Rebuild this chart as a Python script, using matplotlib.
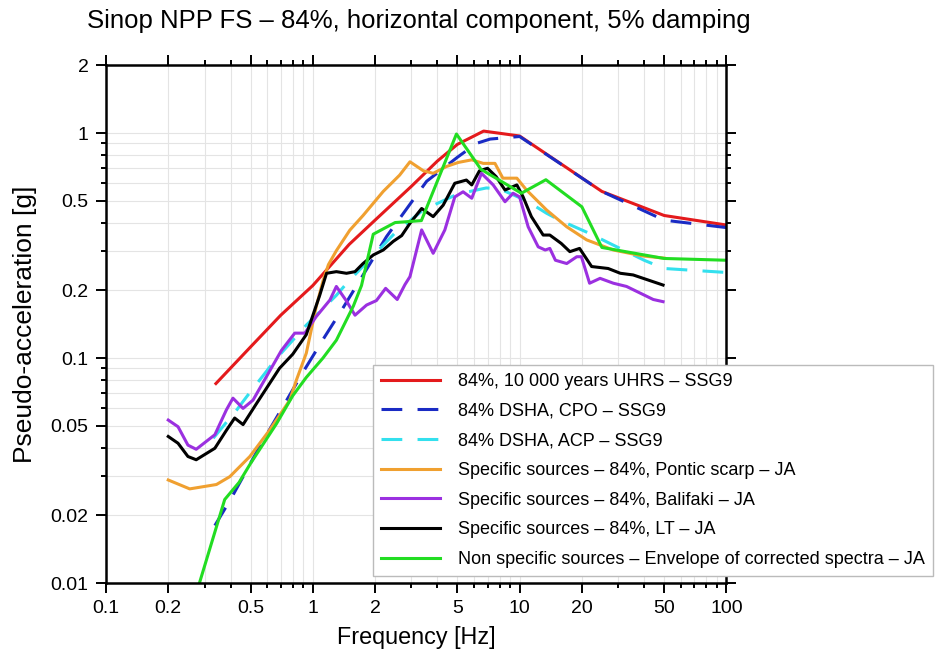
import matplotlib
matplotlib.use("Agg")
import matplotlib.pyplot as plt
from matplotlib.ticker import FixedLocator, NullFormatter

plt.rcParams['font.family'] = ['Liberation Sans', 'DejaVu Sans']

# ---------------- data ----------------
uhrs_f = [0.34, 0.5, 0.7, 1.0, 1.5, 2.0, 3.0, 4.0, 5.0, 6.7, 10.0, 25.0, 50.0, 100.0]
uhrs_a = [0.077, 0.112, 0.155, 0.21, 0.32, 0.41, 0.58, 0.75, 0.89, 1.02, 0.97, 0.55, 0.43, 0.39]

cpo_f = [0.336, 0.4, 0.55, 0.9, 1.14, 1.4, 2.27, 3.55, 5.0, 6.2, 7.2, 10.0, 25.0, 50.0, 100.0]
cpo_a = [0.018, 0.0235, 0.040, 0.087, 0.124, 0.167, 0.346, 0.61, 0.78, 0.90, 0.94, 0.965, 0.55, 0.41, 0.38]

acp_f = [0.33, 0.43, 0.48, 0.67, 0.93, 1.3, 1.46, 2.5, 3.42, 4.27, 5.0, 6.9, 8.0, 10.8, 13.5,
         15.6, 21.5, 40.0, 50.0, 100.0]
acp_a = [0.044, 0.059, 0.0675, 0.10, 0.14, 0.19, 0.215, 0.36, 0.455, 0.50, 0.535, 0.57, 0.565,
         0.50, 0.44, 0.41, 0.36, 0.272, 0.25, 0.24]

pontic_f = [0.2, 0.254, 0.342, 0.397, 0.496, 0.62, 0.774, 0.834, 0.93, 1.04, 1.12, 1.19, 1.3, 1.51,
            1.75, 2.19, 2.63, 2.95, 3.42, 3.82, 4.43, 5.05, 5.87, 6.67, 7.6, 8.3, 9.7, 10.8, 13.5,
            16.9, 21.1, 28.4, 39.6, 50.0]
pontic_a = [0.0287, 0.0262, 0.0274, 0.0297, 0.0365, 0.048, 0.065, 0.08, 0.105, 0.17, 0.22, 0.26,
            0.30, 0.37, 0.43, 0.55, 0.65, 0.745, 0.68, 0.662, 0.71, 0.74, 0.76, 0.733, 0.733,
            0.63, 0.63, 0.558, 0.455, 0.383, 0.335, 0.302, 0.284, 0.278]

balifaki_f = [0.2, 0.223, 0.249, 0.273, 0.336, 0.382, 0.411, 0.46, 0.514, 0.597, 0.705, 0.818,
              0.915, 1.04, 1.21, 1.30, 1.45, 1.6, 1.82, 2.03, 2.25, 2.56, 2.79, 2.95, 3.36, 3.82,
              4.35, 4.86, 5.33, 5.87, 6.54, 7.45, 8.5, 9.3, 10.0, 11.0, 12.3, 13.3, 14.0, 14.9,
              16.9, 18.9, 19.9, 21.8, 24.5, 28.4, 32.9, 44.3, 49.4]
balifaki_a = [0.053, 0.0495, 0.041, 0.0393, 0.0456, 0.0588, 0.0663, 0.0597, 0.065, 0.0827, 0.108,
              0.129, 0.129, 0.153, 0.181, 0.208, 0.18, 0.155, 0.172, 0.18, 0.204, 0.182, 0.212,
              0.23, 0.371, 0.292, 0.371, 0.52, 0.548, 0.513, 0.662, 0.588, 0.495, 0.54, 0.52,
              0.383, 0.312, 0.302, 0.307, 0.272, 0.263, 0.282, 0.282, 0.215, 0.226, 0.215, 0.208,
              0.182, 0.178]

lt_f = [0.2, 0.223, 0.249, 0.273, 0.336, 0.382, 0.419, 0.46, 0.534, 0.69, 0.80, 0.93, 1.08,
        1.165, 1.3, 1.455, 1.6, 1.75, 1.96, 2.19, 2.45, 2.69, 2.95, 3.36, 3.82, 4.27, 4.86, 5.53,
        5.87, 6.4, 7.0, 7.7, 8.5, 9.7, 10.4, 11.4, 13.0, 14.0, 15.9, 17.5, 19.5, 22.3, 26.8,
        30.7, 35.4, 49.4]
lt_a = [0.0448, 0.0418, 0.0365, 0.0353, 0.0397, 0.0477, 0.0541, 0.0506, 0.0627, 0.09, 0.104,
        0.127, 0.19, 0.238, 0.242, 0.238, 0.242, 0.263, 0.287, 0.302, 0.33, 0.35, 0.397, 0.462,
        0.425, 0.478, 0.598, 0.618, 0.588, 0.68, 0.697, 0.64, 0.558, 0.588, 0.52, 0.425, 0.352,
        0.352, 0.323, 0.297, 0.307, 0.255, 0.25, 0.238, 0.234, 0.211]

nonspec_f = [0.284, 0.375, 0.44, 0.5, 0.667, 0.8, 0.93, 1.12, 1.3, 1.57, 1.72, 1.96, 2.5, 3.35,
             4.95, 6.5, 10.2, 13.4, 20.0, 25.0, 50.0, 100.0]
nonspec_a = [0.0101, 0.0235, 0.028, 0.034, 0.051, 0.068, 0.082, 0.10, 0.12, 0.17, 0.21, 0.355,
             0.40, 0.408, 0.99, 0.69, 0.54, 0.62, 0.47, 0.31, 0.277, 0.272]

labels = [
    "84%, 10 000 years UHRS \u2013 SSG9",
    "84% DSHA, CPO \u2013 SSG9",
    "84% DSHA, ACP \u2013 SSG9",
    "Specific sources \u2013 84%, Pontic scarp \u2013 JA",
    "Specific sources \u2013 84%, Balifaki \u2013 JA",
    "Specific sources \u2013 84%, LT \u2013 JA",
    "Non specific sources \u2013 Envelope of corrected spectra \u2013 JA",
]
colors = ["#e41a1c", "#1a2bc4", "#33e0ee", "#f0a030", "#9b30e0", "#000000", "#22dd22"]

x_ticks = [0.1, 0.2, 0.5, 1, 2, 5, 10, 20, 50, 100]
x_ticklabels = ["0.1", "0.2", "0.5", "1", "2", "5", "10", "20", "50", "100"]
y_ticks = [0.01, 0.02, 0.05, 0.1, 0.2, 0.5, 1, 2]
y_ticklabels = ["0.01", "0.02", "0.05", "0.1", "0.2", "0.5", "1", "2"]

# ---------------- figure ----------------
fig = plt.figure(figsize=(9.39, 6.55), dpi=100)
ax = fig.add_axes([106 / 939, 1 - 583 / 655, (726.4 - 106) / 939, (583 - 65.3) / 655])
ax.set_xscale('log')
ax.set_yscale('log')
ax.set_xlim(0.1, 100)
ax.set_ylim(0.01, 2)

lw = 2.2
dash = (0, (6.8, 5.0))
series = [
    (uhrs_f, uhrs_a, '-'),
    (cpo_f, cpo_a, dash),
    (acp_f, acp_a, dash),
    (pontic_f, pontic_a, '-'),
    (balifaki_f, balifaki_a, '-'),
    (lt_f, lt_a, '-'),
    (nonspec_f, nonspec_a, '-'),
]
handles = []
for (f, a, ls), c, lab in zip(series, colors, labels):
    h, = ax.plot(f, a, color=c, lw=lw, linestyle=ls, label=lab, solid_joinstyle='round')
    handles.append(h)

# ticks
minor_x = [m * 10 ** e for e in (-1, 0, 1) for m in (3, 4, 6, 7, 8, 9)]
minor_y = [m * 10 ** e for e in (-2, -1) for m in (3, 4, 6, 7, 8, 9)]
ax.xaxis.set_major_locator(FixedLocator(x_ticks))
ax.xaxis.set_minor_locator(FixedLocator(minor_x))
ax.yaxis.set_major_locator(FixedLocator(y_ticks))
ax.yaxis.set_minor_locator(FixedLocator(minor_y))
ax.set_xticklabels(x_ticklabels)
ax.set_yticklabels(y_ticklabels)
ax.xaxis.set_minor_formatter(NullFormatter())
ax.yaxis.set_minor_formatter(NullFormatter())
ax.tick_params(which='both', direction='out', top=True, right=True, width=1.4, labelsize=14)
ax.tick_params(which='major', length=7.5, pad=5)
ax.tick_params(which='minor', length=3.8)

ax.grid(True, which='both', color='#e4e4e4', lw=0.8)
ax.set_axisbelow(True)
for s in ax.spines.values():
    s.set_linewidth(1.8)

ax.set_xlabel("Frequency [Hz]", fontsize=16.8, labelpad=6)
ax.set_ylabel("Pseudo-acceleration [g]", fontsize=19, labelpad=10)

fig.text(419 / 939, 1 - 21 / 655, "Sinop NPP FS \u2013 84%, horizontal component, 5% damping",
         ha='center', va='center', fontsize=18.5)

leg = fig.legend(handles=handles, loc='upper left', bbox_to_anchor=(373 / 939, 1 - 365 / 655),
                 fontsize=13, frameon=True, fancybox=False, framealpha=1, edgecolor='#bbbbbb',
                 handlelength=3.27, handletextpad=1.0, labelspacing=0.7, borderpad=0.45,
                 borderaxespad=0)
leg.get_frame().set_linewidth(1.0)

fig.savefig("out.png", dpi=100)
